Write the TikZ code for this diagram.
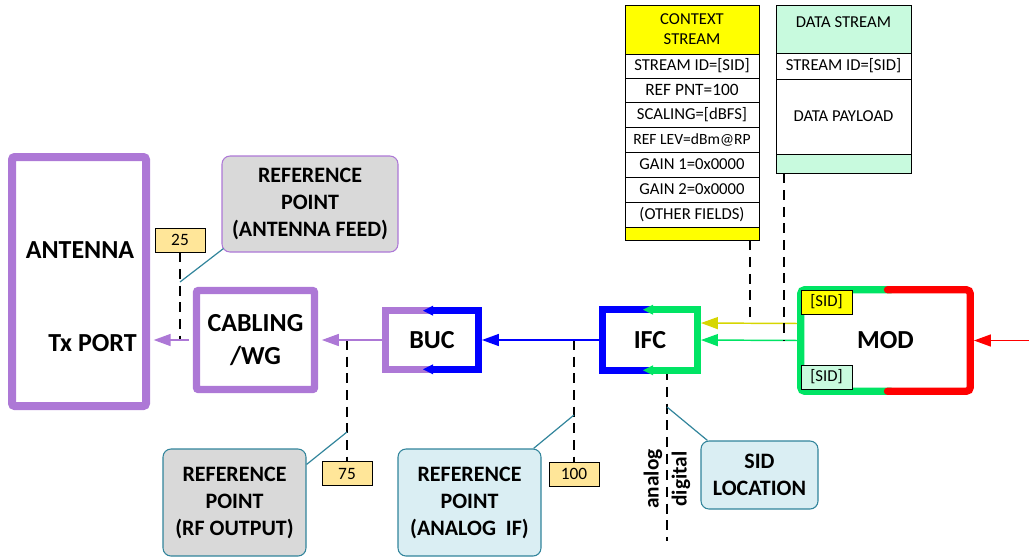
\documentclass[tikz,border=0pt]{standalone}
\usepackage{fontspec}
\setmainfont{Carlito}
\usetikzlibrary{arrows.meta,calc}

\definecolor{pur}{RGB}{173,120,214}
\definecolor{grn}{RGB}{0,228,100}
\definecolor{yln}{RGB}{214,214,0}
\definecolor{ctxyel}{RGB}{255,255,0}
\definecolor{mint}{RGB}{200,250,222}
\definecolor{tagfill}{RGB}{255,230,153}
\definecolor{gfill}{RGB}{217,217,217}
\definecolor{bfill}{RGB}{218,238,243}
\definecolor{tealc}{RGB}{49,132,155}

\def\pxu{0.75pt}
\newcommand\fbig{\fontsize{19.5}{24.75}\selectfont\bfseries}
\newcommand\fmid{\fontsize{16.5}{20.25}\selectfont\bfseries}
\newcommand\ftab{\fontsize{12.5}{15}\selectfont}
\newcommand\ftag{\fontsize{13}{15}\selectfont}

\begin{document}
\begin{tikzpicture}[x=0.75pt,y=-0.75pt,
  bw/.style={line width=5.5pt},
  conn/.style={-{Triangle[length=12.75pt,width=9pt]}, line width=1.1pt,
               shorten >=2.75pt, shorten <=2.75pt},
  dashln/.style={dash pattern=on 7.5pt off 5pt, line width=1.2pt},
  lead/.style={tealc, line width=0.9pt},
  tag/.style={draw=black, fill=tagfill, line width=0.6pt, inner sep=0,
              minimum width=50*\pxu, minimum height=24*\pxu, font=\ftag},
  sidtag/.style={draw=black, line width=0.7pt, inner sep=0,
              minimum width=51*\pxu, minimum height=24*\pxu, font=\ftab},
  callout/.style={rounded corners=6pt, line width=0.8pt, inner sep=0,
              align=center, font=\fmid},
  row/.style={draw=black, line width=0.7pt, inner sep=0, align=center, font=\ftab},
]
\useasboundingbox (0,0) rectangle (1029,558);

% ---------- blocks ----------
\node[draw=pur, line width=6pt, rounded corners=2pt, inner sep=0,
      minimum width=134*\pxu, minimum height=249*\pxu] (ant) at (79,281.5) {};
\node[font=\fbig] (antt) at (80,250) {ANTENNA};
\node[font=\fbig] (txp) at (92.5,343) {Tx PORT};

\node[draw=pur, bw, rounded corners=1.5pt, inner sep=0, align=center, font=\fbig,
      minimum width=118*\pxu, minimum height=99*\pxu] (cab) at (255.5,340) {CABLING\\/WG};

\node[inner sep=0, font=\fbig, minimum width=92*\pxu, minimum height=58*\pxu] (buc) at (432,340) {BUC};
\node[inner sep=0, font=\fbig, minimum width=94*\pxu, minimum height=60*\pxu] (ifc) at (650,340) {IFC};
\node[inner sep=0, font=\fbig, minimum width=169*\pxu, minimum height=101*\pxu] (mod) at (885.5,340.5) {MOD};

% ---------- dashed reference lines (under the blocks) ----------
\node[tag] (t25) at (180,240) {25};
\node[tag] (t75) at (347,473.5) {75};
\node[tag] (t100) at (574,474) {100};

\draw[dashln] (t25.south) -- (t25.south |- cab.west);
\draw[dashln] (t75.north |- cab.east) -- (t75.north);
\draw[dashln] (t100.north |- ifc.west) -- (t100.north);
\coordinate (sidend) at (667,541);
\draw[dashln] (ifc.south -| sidend) -- (sidend);

% ---------- two-colour block borders ----------
\draw[pur, bw] ($(buc.north)+(8,0)$) -- (buc.north west) -- (buc.south west) -- ($(buc.south)+(8,0)$);
\draw[blue, bw] (buc.north) -- (buc.north east) -- (buc.south east) -- (buc.south);
\fill[blue] ($(buc.north)+(1,-5)$) -- ($(buc.north)+(-9,0)$) -- ($(buc.north)+(1,5)$) -- cycle;
\fill[blue] ($(buc.south)+(1,-5)$) -- ($(buc.south)+(-9,0)$) -- ($(buc.south)+(1,5)$) -- cycle;

\draw[blue, bw] ($(ifc.north)+(8,0)$) -- (ifc.north west) -- (ifc.south west) -- ($(ifc.south)+(8,0)$);
\draw[grn, bw] ($(ifc.north)+(2,0)$) -- (ifc.north east) -- (ifc.south east) -- ($(ifc.south)+(2,0)$);
\fill[grn] ($(ifc.north)+(3,-5)$) -- ($(ifc.north)+(-7,0)$) -- ($(ifc.north)+(3,5)$) -- cycle;
\fill[grn] ($(ifc.south)+(3,-5)$) -- ($(ifc.south)+(-7,0)$) -- ($(ifc.south)+(3,5)$) -- cycle;

\draw[grn, bw, rounded corners=3pt] ($(mod.north)+(6,0)$) -- (mod.north west) -- (mod.south west) -- ($(mod.south)+(6,0)$);
\draw[red, bw, rounded corners=3pt, line cap=round] ($(mod.north)+(2,0)$) -- (mod.north east) -- (mod.south east) -- ($(mod.south)+(2,0)$);

\node[sidtag, fill=ctxyel] (sid1) at (826.5,302) {[SID]};
\node[sidtag, fill=mint] (sid2) at (826.5,377) {[SID]};

% ---------- signal connectors ----------
\coordinate (src) at (1029,340.5);
\draw[conn, red, shorten <=0pt] (src) -- (mod.east);
\draw[conn, grn] (mod.west) -- (ifc.east);
\draw[conn, yln] ([yshift=12.75pt]mod.west) -- ([yshift=12.75pt]ifc.east);
\draw[conn, blue] (ifc.west) -- (buc.east);
\draw[conn, pur] (buc.west) -- (cab.east);
\draw[conn, pur] (cab.west) -- (cab.west -| ant.east);

% ---------- packet tables ----------
\node[row, fill=ctxyel, minimum width=134*\pxu, minimum height=49*\pxu] (ctxH) at (692,29.5) {CONTEXT\\STREAM};
\node[row, minimum width=134*\pxu, minimum height=24*\pxu] (ctx1) at (692,66) {STREAM ID=[SID]};
\node[row, minimum width=134*\pxu, minimum height=24*\pxu, font=\fontsize{13}{15}\selectfont] (ctx2) at (692,90) {REF PNT=100};
\node[row, minimum width=134*\pxu, minimum height=25*\pxu] (ctx3) at (692,114.5) {SCALING=[dBFS]};
\node[row, minimum width=134*\pxu, minimum height=25*\pxu, font=\fontsize{11.7}{14}\selectfont] (ctx4) at (692,139.5) {REF LEV=dBm@RP};
\node[row, minimum width=134*\pxu, minimum height=25*\pxu] (ctx5) at (692,164.5) {GAIN 1=0x0000};
\node[row, minimum width=134*\pxu, minimum height=25*\pxu] (ctx6) at (692,189.5) {GAIN 2=0x0000};
\node[row, minimum width=134*\pxu, minimum height=25*\pxu] (ctx7) at (692,214.5) {(OTHER FIELDS)};
\node[row, fill=ctxyel, minimum width=134*\pxu, minimum height=13*\pxu] (ctxF) at (692,233.5) {};

\node[row, fill=mint, minimum width=135*\pxu, minimum height=48*\pxu] (dH) at (843.5,29) {};
\node[font=\ftab] (dHt) at (843.5,22) {DATA STREAM};
\node[row, minimum width=135*\pxu, minimum height=26*\pxu] (d1) at (843.5,66) {STREAM ID=[SID]};
\node[row, minimum width=135*\pxu, minimum height=75*\pxu] (dP) at (843.5,116.5) {DATA PAYLOAD};
\node[row, fill=mint, minimum width=135*\pxu, minimum height=19*\pxu] (dF) at (843.5,163.5) {};

\coordinate (cxp) at (750,323);
\coordinate (dxp) at (784,340.5);
\draw[dashln] (cxp |- ctxF.south) -- (cxp);
\draw[dashln] (dxp |- dF.south) -- (dxp);

% ---------- callouts ----------
\node[callout, draw=pur, fill=gfill, minimum width=176*\pxu, minimum height=96*\pxu] (feed) at (310,204)
  {REFERENCE\\POINT\\(ANTENNA FEED)};
\node[callout, draw=tealc, fill=gfill, minimum width=143*\pxu, minimum height=107*\pxu] (rf) at (234.5,502.5)
  {REFERENCE\\POINT\\(RF OUTPUT)};
\node[callout, draw=tealc, fill=bfill, minimum width=143*\pxu, minimum height=107*\pxu] (aif) at (469.5,502.5)
  {REFERENCE\\POINT\\(ANALOG~~IF)};
\node[callout, draw=tealc, fill=bfill, minimum width=117*\pxu, minimum height=68*\pxu] (sid) at (759.5,475)
  {SID\\LOCATION};

\coordinate (l25) at (180,282);
\coordinate (l75) at (347,432);
\coordinate (l100) at (574,415);
\coordinate (lsid) at (667,407);
\draw[lead] (l25) -- ($(feed.south west)+(2,-4)$);
\draw[lead] (l75) -- ($(rf.north east)+(0,16)$);
\draw[lead] (l100) -- ($(aif.north east)+(-8,0)$);
\draw[lead] (lsid) -- ($(sid.north west)+(7,0)$);

\node[rotate=90, font=\fontsize{16}{18}\selectfont\bfseries] (ana) at (653,479) {analog};
\node[rotate=90, font=\fontsize{16}{18}\selectfont\bfseries] (dig) at (681,479) {digital};
\end{tikzpicture}
\end{document}
